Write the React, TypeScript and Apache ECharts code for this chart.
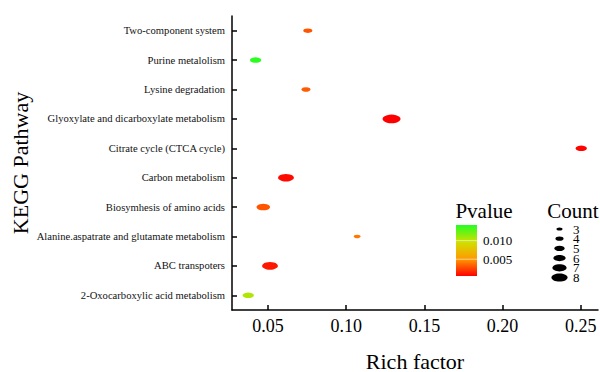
import React, { useEffect, useRef } from "react";
import * as echarts from "echarts";

const categories = [
  "2-Oxocarboxylic acid metabolism",
  "ABC transpoters",
  "Alanine.aspatrate and glutamate metabolism",
  "Biosymhesis of amino acids",
  "Carbon metabolism",
  "Citrate cycle (CTCA cycle)",
  "Glyoxylate and dicarboxylate metabolism",
  "Lysine degradation",
  "Purine metalolism",
  "Two-component system",
];
const richFactor = [0.0374, 0.0513, 0.107, 0.047, 0.0615, 0.2503, 0.129, 0.0743, 0.0421, 0.0755];
const pValues = [0.0105, 0.0012, 0.004, 0.003, 0.0008, 0.0006, 0.0005, 0.0032, 0.014, 0.003];
const counts = [5, 7, 3, 6, 7, 5, 8, 4, 5, 4];

const xTicks = [0.05, 0.1, 0.15, 0.2, 0.25];
const pTicks = [0.01, 0.005];
const countTicks = [3, 4, 5, 6, 7, 8];

const P_MIN = 0.0005;
const P_MAX = 0.0142;
const pColors = ["#ff0000", "#ff9a00", "#d0e000", "#22ff22"];

const FONT = "Liberation Serif";
const symW = (c: number) => 7 + (c - 3) * 2.2;
const symH = (c: number) => symW(c) * 0.48;

export default function App() {
  const ref = useRef<HTMLDivElement>(null);
  useEffect(() => {
    document.body.style.margin = "0";
    if (!ref.current) return;
    const chart = echarts.init(ref.current, null, { renderer: "svg" });

    const data = categories.map((c, i) => [richFactor[i], c, pValues[i], counts[i]]);

    const barLeft = 456, barTop = 225, barW = 21, barH = 51;
    const pY = (v: number) => barTop + ((P_MAX - v) / (P_MAX - P_MIN)) * barH;
    const countTop = 229, countStep = 9.7;

    const graphics: any[] = [
      {
        type: "text",
        x: 20,
        y: 163,
        rotation: Math.PI / 2,
        style: {
          text: "KEGG Pathway",
          font: `22px '${FONT}'`,
          fill: "#000",
          align: "center",
          verticalAlign: "middle",
        },
      },
      {
        type: "text",
        x: 484,
        y: 211,
        style: {
          text: "Pvalue",
          font: `21px '${FONT}'`,
          fill: "#000",
          align: "center",
          verticalAlign: "middle",
        },
      },
      {
        type: "text",
        x: 573,
        y: 211,
        style: {
          text: "Count",
          font: `21px '${FONT}'`,
          fill: "#000",
          align: "center",
          verticalAlign: "middle",
        },
      },
      {
        type: "rect",
        shape: { x: barLeft, y: barTop, width: barW, height: barH },
        style: {
          fill: new echarts.graphic.LinearGradient(
            0, 1, 0, 0,
            pColors.map((c, i) => ({ offset: i / (pColors.length - 1), color: c }))
          ),
        },
      },
      {
        type: "text",
        x: 573,
        y: countTop - countStep / 2,
        style: {
          text: countTicks.map(String).join("\n"),
          font: `13px '${FONT}'`,
          lineHeight: countStep,
          fill: "#000",
          align: "left",
          verticalAlign: "top",
        },
      },
    ];
    pTicks.forEach((t) => {
      const y = pY(t);
      graphics.push({
        type: "line",
        shape: { x1: barLeft, y1: y, x2: barLeft + barW, y2: y },
        style: { stroke: "rgba(255,255,255,0.55)", lineWidth: 1 },
      });
      graphics.push({
        type: "text",
        x: 483,
        y,
        style: {
          text: t.toFixed(3),
          font: `13px '${FONT}'`,
          fill: "#000",
          align: "left",
          verticalAlign: "middle",
        },
      });
    });
    countTicks.forEach((c, i) => {
      const y = countTop + i * countStep;
      graphics.push({
        type: "ellipse",
        shape: { cx: 559.5, cy: y, rx: (symW(c) * 0.9) / 2, ry: (symH(c) * 0.95) / 2 },
        style: { fill: "#000" },
      });
    });

    chart.setOption({
      animation: false,
      backgroundColor: "#fff",
      grid: {
        left: 232,
        right: 2,
        top: 16,
        bottom: 62,
        containLabel: false,
        outerBoundsMode: "none",
      },
      xAxis: {
        type: "value",
        min: 0.027,
        max: 0.261,
        name: "Rich factor",
        nameLocation: "middle",
        nameGap: 40,
        nameTextStyle: { fontFamily: FONT, fontSize: 22, color: "#000" },
        splitLine: { show: false },
        axisLine: { show: true, lineStyle: { color: "#000", width: 1.5 } },
        axisTick: {
          show: true,
          inside: true,
          length: 5,
          customValues: xTicks,
          lineStyle: { color: "#000", width: 1.5 },
        },
        axisLabel: {
          customValues: xTicks,
          formatter: (v: number) => v.toFixed(2),
          fontFamily: FONT,
          fontSize: 18,
          color: "#000",
          margin: 7,
        },
      },
      yAxis: {
        type: "category",
        data: categories,
        axisLine: { show: true, lineStyle: { color: "#000", width: 1.5 } },
        axisTick: {
          show: true,
          inside: true,
          alignWithLabel: true,
          length: 5,
          lineStyle: { color: "#000", width: 1.5 },
        },
        axisLabel: { fontFamily: FONT, fontSize: 10.6, color: "#111", margin: 7 },
        splitLine: { show: false },
      },
      visualMap: {
        show: false,
        type: "continuous",
        dimension: 2,
        min: P_MIN,
        max: P_MAX,
        inRange: { color: pColors },
        seriesIndex: 0,
      },
      series: [
        {
          type: "scatter",
          data,
          symbol: "circle",
          symbolSize: (val: any) => [symW(val[3]), symH(val[3])],
          itemStyle: { opacity: 1 },
        },
      ],
      graphic: graphics,
    });
    return () => chart.dispose();
  }, []);
  return <div ref={ref} style={{ width: 600, height: 372 }} />;
}
